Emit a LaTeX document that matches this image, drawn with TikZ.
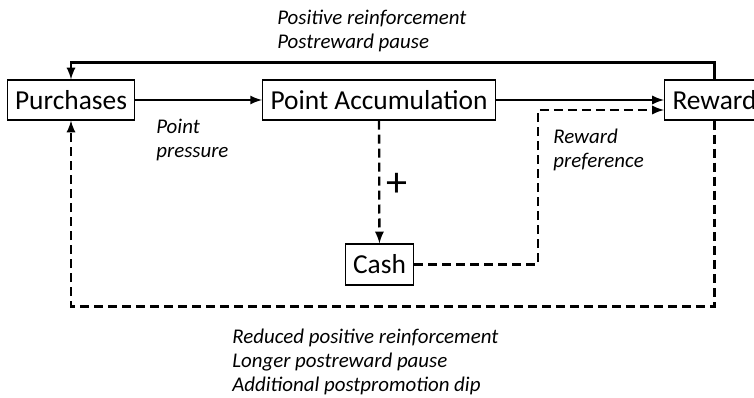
\documentclass[tikz,border=0pt]{standalone}
\usepackage{fontspec}
\setmainfont{Carlito}
\usetikzlibrary{arrows,positioning,calc}

\begin{document}
\begin{tikzpicture}[x=0.02cm,y=-0.02cm,
  box/.style={draw,line width=0.6pt,minimum height=0.8cm,inner xsep=0.16cm,font=\fontsize{15.6}{18}\selectfont},
  lab/.style={align=left,anchor=west,inner sep=0pt,font=\fontsize{11.9}{13.5}\selectfont\itshape},
  flow/.style={line width=1.3pt,-latex},
  dashflow/.style={flow,dash pattern=on 0.18cm off 0.1cm}]
 \clip (0,0) rectangle (754,398);
 % boxes
 \node[box] (purch) at (71,100) {Purchases};
 \node[box] (accum) at (379,100) {Point Accumulation};
 \node[box,anchor=west] (reward) at (664,100) {Reward};
 \node[box,minimum height=0.82cm] (cash) at (379.5,264.5) {Cash};
 % solid links
 \draw[flow] (purch) -- (accum);
 \draw[flow] (accum) -- (reward);
 \draw[flow] (reward.north) |- ($(purch.north)+(0,-17)$) -- (purch.north);
 % dashed links
 \draw[dashflow] (accum) -- (cash);
 \node[font=\fontsize{24}{24}\selectfont] (plus) at (396.5,185) {+};
 \draw[dashflow] (cash.east) -| ($(reward.west)+(-126,10)$) -- ($(reward.west)+(0,10)$);
 \draw[dashflow] (reward.south) |- ($(purch.south)+(0,186)$) -- (purch.south);
 % labels
 \node[lab] (poslab) at (277,31) {Positive reinforcement\\Postreward pause};
 \node[lab] (presslab) at (156,140) {Point\\pressure};
 \node[lab] (preflab) at (553,150) {Reward\\preference};
 \node[lab] (reducedlab) at (232,362) {Reduced positive reinforcement\\Longer postreward pause\\Additional postpromotion dip};
\end{tikzpicture}
\end{document}
